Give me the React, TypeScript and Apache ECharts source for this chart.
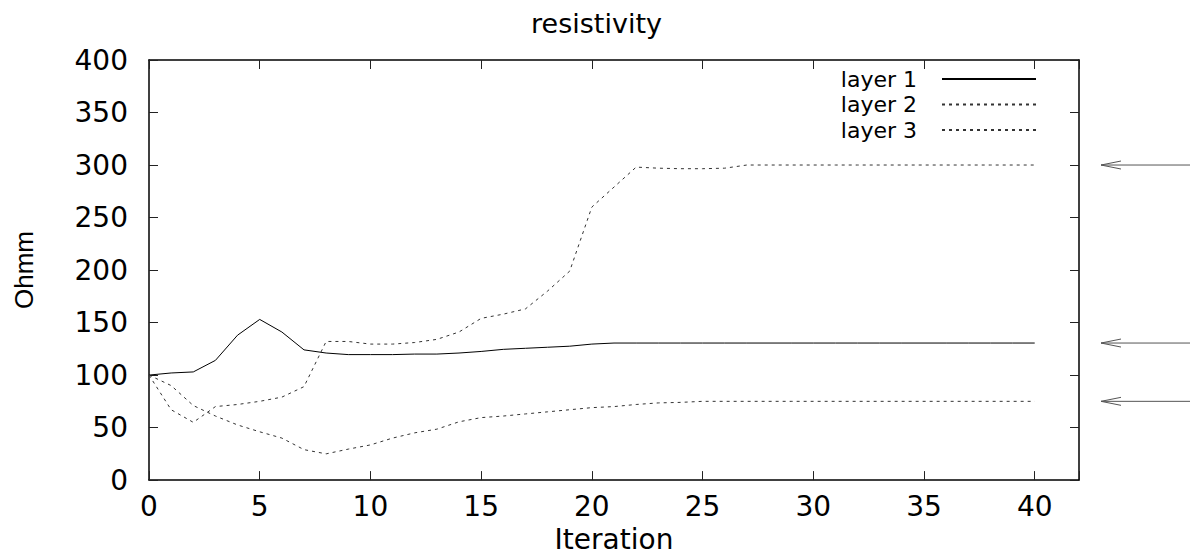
import React, { useEffect, useRef } from "react";
import * as echarts from "echarts";

// Iteration numbers (x) shared by every layer
const iterations = [
  0, 1, 2, 3, 4, 5, 6, 7, 8, 9, 10, 11, 12, 13, 14, 15, 16, 17, 18, 19, 20,
  21, 22, 23, 24, 25, 26, 27, 28, 29, 30, 31, 32, 33, 34, 35, 36, 37, 38, 39, 40,
];

// Resistivity estimates per iteration (Ohmm)
const layer1 = [
  100, 102, 103, 114, 138, 153, 141, 124, 121, 119.5, 119.5, 119.5, 120, 120,
  121, 122.5, 124.5, 125.5, 126.5, 127.5, 129.5, 130.5, 130.5, 130.5, 130.5,
  130.5, 130.5, 130.5, 130.5, 130.5, 130.5, 130.5, 130.5, 130.5, 130.5, 130.5,
  130.5, 130.5, 130.5, 130.5, 130.5,
];
const layer2 = [
  100, 67, 55, 70, 72, 75, 79, 89, 132, 132, 129.5, 129.5, 131, 134, 141, 154,
  158, 163, 180, 199, 260, 279, 298, 297, 296.5, 296.5, 297, 300, 300, 300, 300,
  300, 300, 300, 300, 300, 300, 300, 300, 300, 300,
];
const layer3 = [
  100, 90, 71, 61, 52.5, 46, 40, 29, 25, 29.5, 33.5, 40, 45, 48.5, 55.5, 59.5,
  61, 63, 65, 67, 69, 70, 72, 73.5, 74, 75, 75, 75, 75, 75, 75, 75, 75, 75, 75,
  75, 75, 75, 75, 75, 75,
];

// True model values, marked with arrows right of the plot
const trueValues = [300, 130.5, 75];

const xTicks = { min: 0, max: 42, interval: 5 };
const yTicks = { min: 0, max: 400, interval: 50 };

const FONT = "DejaVu Sans";

const pairs = (vals: number[]) => iterations.map((it, i) => [it, vals[i]]);

export default function App() {
  const ref = useRef<HTMLDivElement>(null);

  useEffect(() => {
    if (!ref.current) return;
    const chart = echarts.init(ref.current, null, { renderer: "svg" });

    const borderLine = { show: true, onZero: false, lineStyle: { color: "#000", width: 1.5 } };
    const tick = { show: true, inside: true, length: 9, lineStyle: { color: "#222", width: 1 } };
    const labelStyle = { fontFamily: FONT, fontSize: 28, color: "#000" };
    const xFmt = (v: number) => (v % 5 === 0 ? String(v) : "");

    chart.setOption({
      animation: false,
      backgroundColor: "#fff",
      title: {
        text: "resistivity",
        left: "center",
        top: 5,
        padding: [5, 0, 5, 36],
        textStyle: { fontFamily: FONT, fontSize: 27, fontWeight: "normal", color: "#000" },
      },
      grid: { left: 149, top: 60, right: 114, bottom: 74, containLabel: false },
      legend: {
        orient: "vertical",
        right: 156,
        top: 68,
        padding: 0,
        align: "right",
        itemWidth: 94,
        itemHeight: 10,
        itemGap: 3.5,
        selectedMode: false,
        itemStyle: { opacity: 0 },
        textStyle: { fontFamily: FONT, fontSize: 22, color: "#000", padding: [0, 20, 0, 0] },
        data: ["layer 1", "layer 2", "layer 3"],
      },
      xAxis: [
        {
          type: "value",
          position: "bottom",
          ...xTicks,
          name: "Iteration",
          nameLocation: "middle",
          nameGap: 34,
          nameTextStyle: labelStyle,
          axisLine: borderLine,
          axisTick: tick,
          axisLabel: { ...labelStyle, margin: 12, formatter: xFmt },
          splitLine: { show: false },
        },
        {
          type: "value",
          position: "top",
          ...xTicks,
          axisLine: borderLine,
          axisTick: tick,
          axisLabel: { show: false },
          splitLine: { show: false },
        },
      ],
      yAxis: [
        {
          type: "value",
          position: "left",
          ...yTicks,
          name: "Ohmm",
          nameLocation: "middle",
          nameRotate: 90,
          nameGap: 112,
          nameTextStyle: { fontFamily: "Liberation Sans", fontSize: 26, color: "#000" },
          axisLine: borderLine,
          axisTick: tick,
          axisLabel: { ...labelStyle, margin: 21 },
          splitLine: { show: false },
        },
        {
          type: "value",
          position: "right",
          ...yTicks,
          axisLine: borderLine,
          axisTick: tick,
          axisLabel: { show: false },
          splitLine: { show: false },
        },
      ],
      series: [
        {
          name: "layer 1",
          type: "line",
          data: pairs(layer1),
          symbol: "none",
          lineStyle: { color: "#000", width: 1, type: "solid" },
          itemStyle: { color: "#000" },
        },
        {
          name: "layer 2",
          type: "line",
          data: pairs(layer2),
          symbol: "none",
          lineStyle: { color: "#333", width: 1, type: [3, 4] },
          itemStyle: { color: "#333" },
        },
        {
          name: "layer 3",
          type: "line",
          data: pairs(layer3),
          symbol: "none",
          lineStyle: { color: "#333", width: 1, type: [3, 4] },
          itemStyle: { color: "#333" },
        },
      ],
    });

    // Arrows pointing at the true values, placed through the y axis scale
    const tipX = 1101;
    const tailX = 1190;
    const arrows = trueValues.flatMap((v, i) => {
      const y = chart.convertToPixel({ yAxisIndex: 0 }, v) as number;
      const style = { stroke: "#555", lineWidth: 1, fill: "none" };
      return [
        { type: "line", id: `shaft${i}`, shape: { x1: tipX, y1: y, x2: tailX, y2: y }, style },
        {
          type: "polyline",
          id: `head${i}`,
          shape: { points: [[tipX + 20, y - 4], [tipX, y], [tipX + 20, y + 4]] },
          style,
        },
      ];
    });
    chart.setOption({ graphic: arrows });

    return () => chart.dispose();
  }, []);

  return (
    <div
      ref={ref}
      style={{ position: "fixed", left: 0, top: 0, width: 1193, height: 558, background: "#fff" }}
    />
  );
}
